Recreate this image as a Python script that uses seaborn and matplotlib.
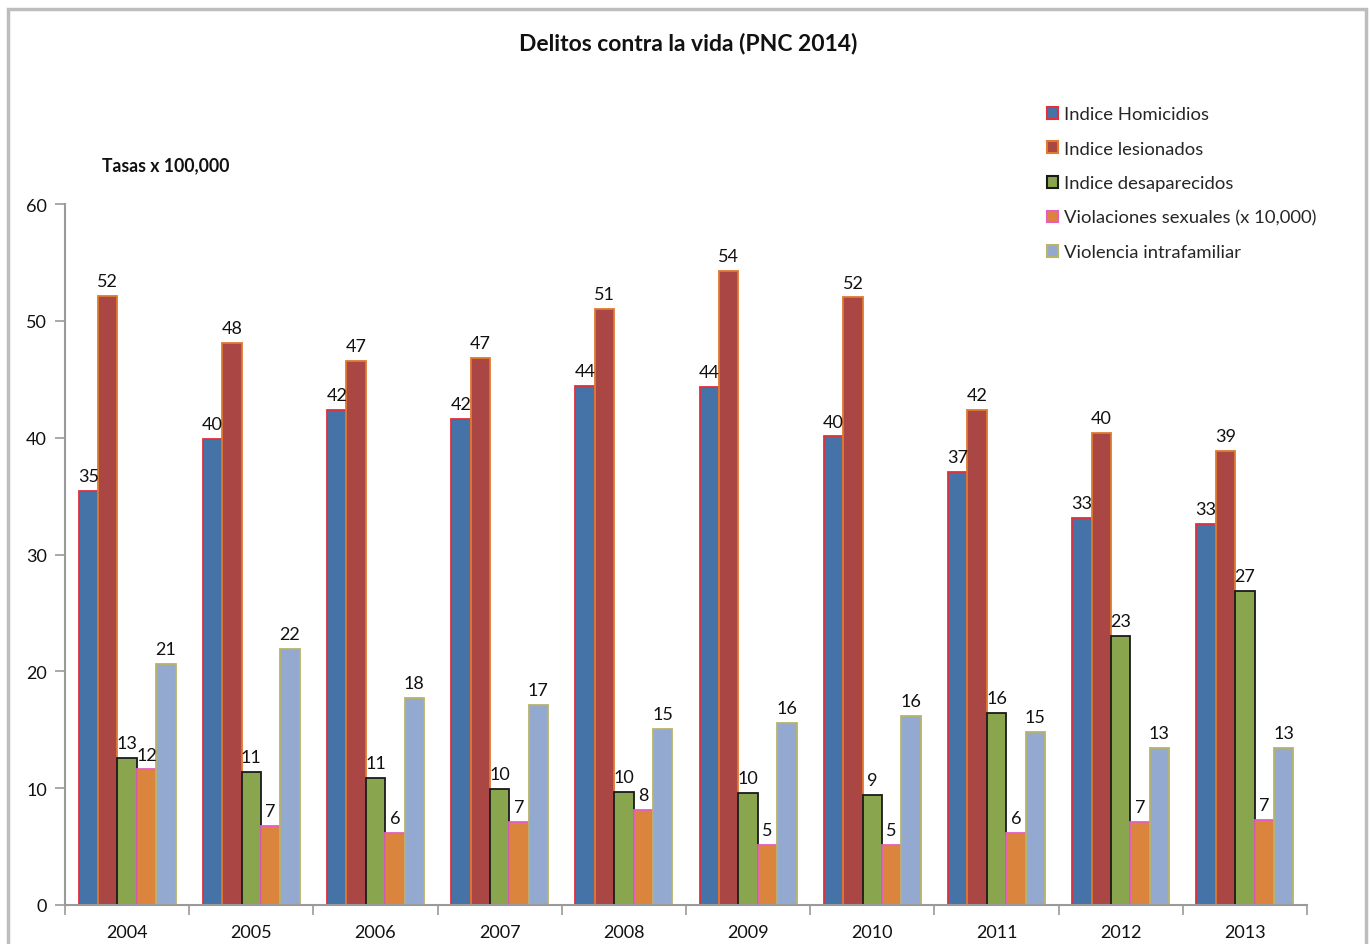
import matplotlib
matplotlib.use("Agg")
import matplotlib.pyplot as plt
from matplotlib.patches import Patch, Rectangle
import numpy as np
import pandas as pd
import seaborn as sns

years = ["2004", "2005", "2006", "2007", "2008", "2009", "2010", "2011", "2012", "2013"]

series_names = [
    "Indice Homicidios",
    "Indice lesionados",
    "Indice desaparecidos",
    "Violaciones sexuales (x 10,000)",
    "Violencia intrafamiliar",
]

homicidios = [35.4, 39.9, 42.4, 41.6, 44.4, 44.3, 40.1, 37.1, 33.1, 32.6]
lesionados = [52.1, 48.1, 46.6, 46.8, 51.0, 54.3, 52.0, 42.4, 40.4, 38.9]
desaparecidos = [12.6, 11.4, 10.9, 9.9, 9.7, 9.6, 9.4, 16.4, 23.0, 26.9]
violaciones = [11.6, 6.8, 6.2, 7.1, 8.1, 5.1, 5.1, 6.2, 7.1, 7.3]
intrafamiliar = [20.6, 21.9, 17.7, 17.1, 15.1, 15.6, 16.2, 14.8, 13.4, 13.4]

fill_colors = ["#4572A7", "#AA4643", "#89A54E", "#DB843D", "#93A9CF"]
edge_colors = ["#E0303A", "#E07A30", "#1A1A1A", "#E45FC0", "#B8B46A"]

values = [homicidios, lesionados, desaparecidos, violaciones, intrafamiliar]
df = pd.DataFrame({
    "year": np.repeat([years], len(series_names), axis=0).ravel(),
    "serie": np.repeat(series_names, len(years)),
    "valor": np.concatenate(values),
})

sns.set_theme(style="white")
plt.rcParams["font.family"] = ["Lato", "DejaVu Sans"]

fig = plt.figure(figsize=(13.71, 9.45), dpi=100)
ax = fig.add_axes([65 / 1371, 39 / 945, 1242 / 1371, 701 / 945])

sns.barplot(
    data=df, x="year", y="valor", hue="serie",
    hue_order=series_names, order=years,
    palette=fill_colors, width=0.78, saturation=1.0,
    ax=ax, legend=False,
)

for cont, ec in zip(ax.containers, edge_colors):
    for bar in cont:
        bar.set_edgecolor(ec)
        bar.set_linewidth(1.3)
    ax.bar_label(cont, fmt="{:.0f}", padding=5, fontsize=13, color="#111111")

ax.set_ylim(0, 60)
ax.set_xlim(-0.5, len(years) - 0.5)
ax.set_yticks(range(0, 61, 10))
ax.set_xlabel("")
ax.set_ylabel("")

# group separators as tick marks on the category axis
ax.set_xticks(np.arange(-0.5, len(years), 1.0), minor=True)
ax.tick_params(axis="x", which="major", length=0, labelsize=13, pad=14, colors="#111111")
ax.tick_params(axis="x", which="minor", length=7, width=1.2, color="#9A9A9A", direction="out")
ax.tick_params(axis="y", length=7, width=1.2, color="#9A9A9A", labelsize=13, pad=6,
               direction="out", labelcolor="#111111")
ax.tick_params(bottom=True, left=True, which="both")

for side in ["top", "right"]:
    ax.spines[side].set_visible(False)
for side in ["left", "bottom"]:
    ax.spines[side].set_color("#9A9A9A")
    ax.spines[side].set_linewidth(1.5)

handles = [Patch(facecolor=fc, edgecolor=ec, linewidth=1.5)
           for fc, ec in zip(fill_colors, edge_colors)]
fig.legend(
    handles, series_names,
    loc="upper left", bbox_to_anchor=(1040 / 1371, 1 - 100 / 945),
    frameon=False, fontsize=13.3, handlelength=0.6, handleheight=0.6,
    handletextpad=0.3, labelspacing=1.0, borderaxespad=0,
)

fig.text(688 / 1371, 1 - 43 / 945, "Delitos contra la vida (PNC 2014)",
         ha="center", va="center", fontsize=16.5, fontweight="bold", color="#111111")
fig.text(102 / 1371, 1 - 166 / 945, "Tasas x 100,000",
         ha="left", va="center", fontsize=12.7, fontweight="bold", color="#111111")

fig.add_artist(Rectangle((8 / 1371, -0.02), (1366 - 8) / 1371, (945 - 10) / 945 + 0.02,
                         transform=fig.transFigure, fill=False,
                         edgecolor="#BDBDBD", linewidth=2.5))

fig.savefig("out.png", dpi=100)
